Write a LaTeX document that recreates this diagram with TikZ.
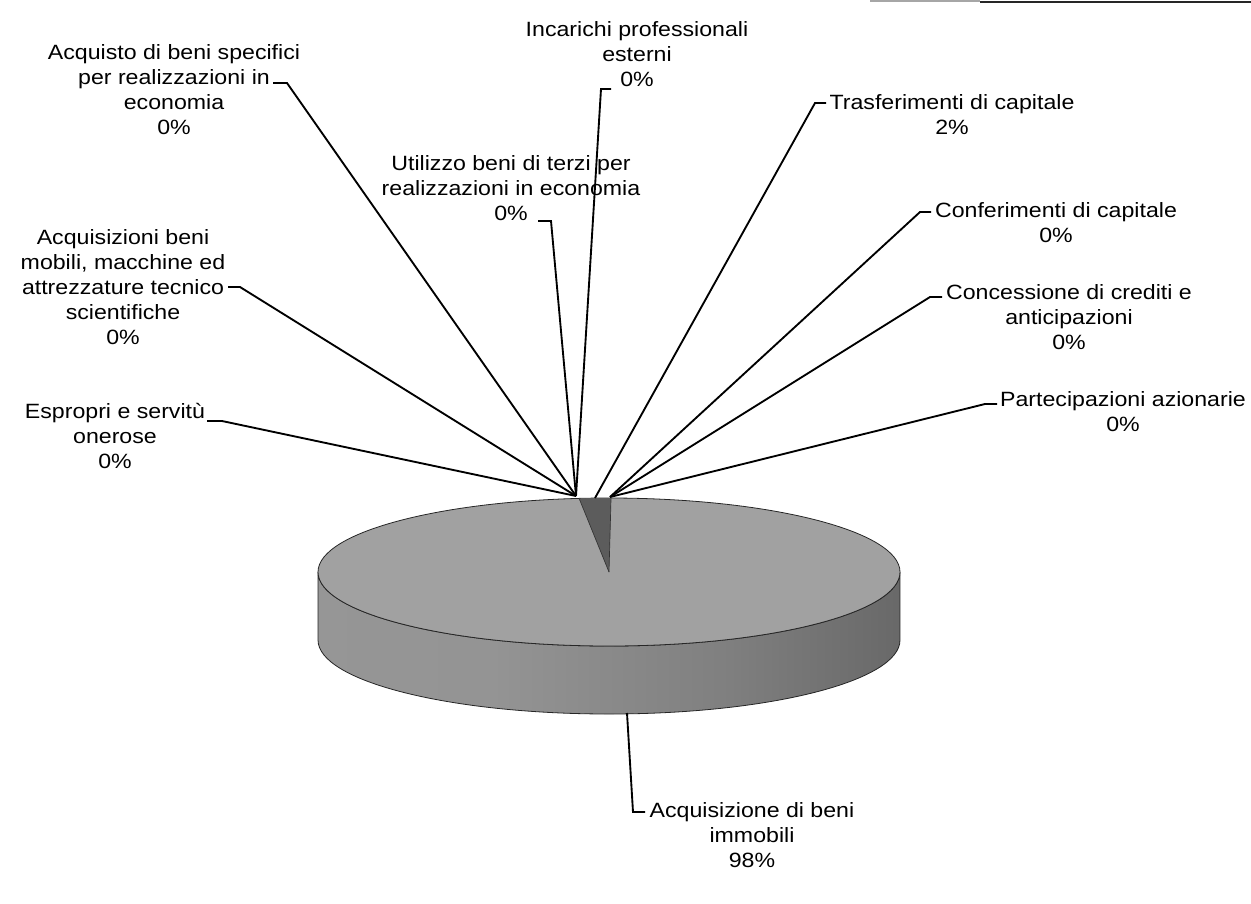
\documentclass[tikz,border=0pt]{standalone}
\usepackage{fontspec}
\setmainfont{Liberation Sans}[FakeStretch=1.12]
\usetikzlibrary{calc}
\pgfdeclarehorizontalshading{pieside}{100bp}{color(0bp)=(black!40); color(40bp)=(black!42); color(60bp)=(black!50); color(80bp)=(black!62); color(100bp)=(black!72)}
\tikzset{
  lab/.style={align=center, inner sep=0pt, font=\fontsize{15.5}{18.75}\selectfont},
  leader/.style={line width=1.4pt, draw=black},
  pieedge/.style={line width=0.6pt, draw=black!85}
}
\begin{document}
\begin{tikzpicture}[x=0.75pt,y=-0.75pt]
\useasboundingbox (0,0) rectangle (1251,903);
% scan border at top right
\draw[line width=1.5pt, black!35] (870,1) -- (980,1);
\draw[line width=2pt, black!85] (980,2) -- (1251,2);
% pie side
\shade[shading=pieside, draw=black!85, line width=0.6pt] (318,572) -- (318,640)
  arc[start angle=180, end angle=360, x radius=218.25pt, y radius=55.5pt]
  -- (900,572)
  arc[start angle=0, end angle=-180, x radius=218.25pt, y radius=55.5pt] -- cycle;
% pie top
\filldraw[pieedge, fill=black!37] (609,572) ellipse [x radius=218.25pt, y radius=55.5pt];
% 2% slice
\coordinate (pc) at (609,572);
\fill[black!64] (pc) -- ++(89.6:218.25pt and 55.5pt)
  arc[start angle=89.6, end angle=95.9, x radius=218.25pt, y radius=55.5pt] -- cycle;
\draw[line width=0.5pt, black!80] (pc) -- ++(89.6:218.25pt and 55.5pt);
\draw[line width=0.5pt, black!80] (pc) -- ++(95.9:218.25pt and 55.5pt);
% targets
\coordinate (pL) at (576,496);
\coordinate (pT) at (595,498);
\coordinate (pR) at (610,497);
\coordinate (pB) at (627,713);
% labels
\node[lab] (inc) at (637,54) {Incarichi professionali\\esterni\\0\%};
\node[lab] (acq) at (174,90) {Acquisto di beni specifici\\per realizzazioni in\\economia\\0\%};
\node[lab] (uti) at (511,188) {Utilizzo beni di terzi per\\realizzazioni in economia\\0\%};
\node[lab] (mob) at (123,287) {Acquisizioni beni\\mobili, macchine ed\\attrezzature tecnico\\scientifiche\\0\%};
\node[lab] (esp) at (115,436) {Espropri e servitù\\onerose\\0\%};
\node[lab] (tra) at (952,115) {Trasferimenti di capitale\\2\%};
\node[lab] (con) at (1056,223) {Conferimenti di capitale\\0\%};
\node[lab] (cre) at (1069,317) {Concessione di crediti e\\anticipazioni\\0\%};
\node[lab] (par) at (1123,412) {Partecipazioni azionarie\\0\%};
\node[lab] (imm) at (752,835) {Acquisizione di beni\\immobili\\98\%};
% leader coordinates
\coordinate (incA) at (611,89);  \coordinate (incB) at (601,89);
\coordinate (acqA) at (273,83);  \coordinate (acqB) at (287,83);
\coordinate (utiA) at (538,221); \coordinate (utiB) at (551,221);
\coordinate (mobA) at (228,287); \coordinate (mobB) at (240,287);
\coordinate (espA) at (207,421); \coordinate (espB) at (222,421);
\coordinate (traA) at (826,103); \coordinate (traB) at (815,103);
\coordinate (conA) at (931,212); \coordinate (conB) at (920,212);
\coordinate (creA) at (942,297); \coordinate (creB) at (930,297);
\coordinate (parA) at (997,404); \coordinate (parB) at (985,404);
\coordinate (immA) at (645,812); \coordinate (immB) at (633,812);
% leaders
\draw[leader] (incA) -- (incB) -- (pL);
\draw[leader] (acqA) -- (acqB) -- (pL);
\draw[leader] (utiA) -- (utiB) -- (pL);
\draw[leader] (mobA) -- (mobB) -- (pL);
\draw[leader] (espA) -- (espB) -- (pL);
\draw[leader] (traA) -- (traB) -- (pT);
\draw[leader] (conA) -- (conB) -- (pR);
\draw[leader] (creA) -- (creB) -- (pR);
\draw[leader] (parA) -- (parB) -- (pR);
\draw[leader] (immA) -- (immB) -- (pB);
\end{tikzpicture}
\end{document}
